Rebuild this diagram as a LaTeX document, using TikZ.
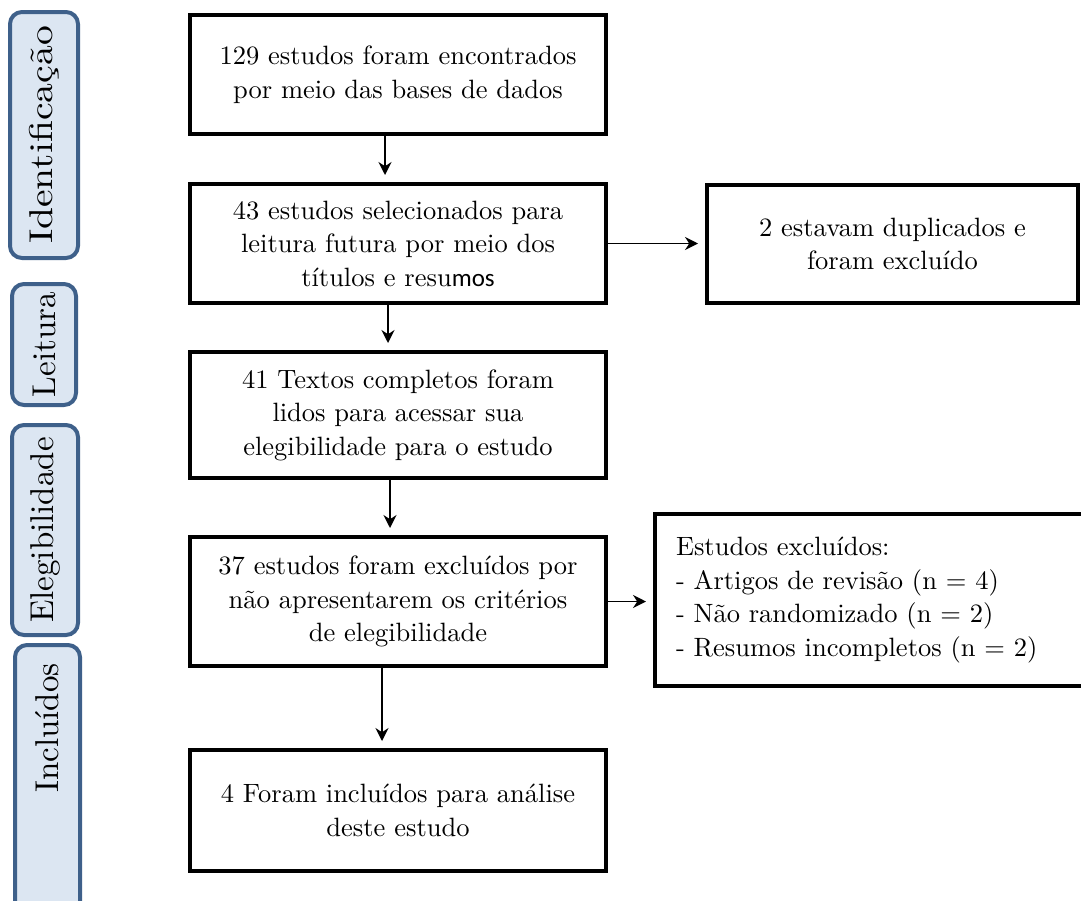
\documentclass[tikz,border=0pt]{standalone}
\usepackage{fontspec}
\setmainfont{lmroman10-regular.otf}
\newfontfamily\calibri{Carlito}
\usetikzlibrary{arrows.meta}
\definecolor{tabfill}{RGB}{220,230,242}
\definecolor{tabline}{RGB}{62,96,138}
\begin{document}
\begin{tikzpicture}[x=1pt, y=-1pt,
    stage/.style={draw=tabline, fill=tabfill, line width=4pt, rounded corners=12pt, inner sep=0pt, font=\fontsize{33}{38}\selectfont},
    box/.style={draw, line width=4pt, align=center, minimum width=416pt, inner sep=0pt, font=\fontsize{26.5}{33.5}\selectfont},
    arr/.style={-{Stealth[length=13pt, width=13pt]}, line width=1.6pt, shorten >=7pt}]
    \useasboundingbox (0,0) rectangle (1081,900);
    \clip (0,0) rectangle (1081,900);
    \node[stage, minimum width=246pt, minimum height=68pt, rotate=90] (tident) at (44,135) {\scalebox{1.2}[1]{Identificação}};
    \node[stage, minimum width=121pt, minimum height=64pt, rotate=90] (tleit) at (44,344.5) {Leitura};
    \node[stage, minimum width=210pt, minimum height=66pt, rotate=90] (teleg) at (45,530) {Elegibilidade};
    \node[stage, minimum width=270pt, minimum height=65pt, rotate=90] (tincl) at (47.5,780) {\hspace*{104pt}Incluídos};
    \node[box, minimum height=119pt] (b1) at (398,74.5) {129 estudos foram encontrados\\por meio das bases de dados};
    \node[box, minimum height=119pt] (b2) at (398,243.5) {43 estudos selecionados para\\leitura futura por meio dos\\títulos e resu{\calibri\fontsize{25}{33.5}\selectfont mos}};
    \node[box, minimum width=371pt, minimum height=118pt] (b3) at (892.5,244) {2 estavam duplicados e\\foram excluído};
    \node[box, minimum height=126pt] (b4) at (398,415) {41 Textos completos foram\\lidos para acessar sua\\elegibilidade para o estudo};
    \node[box, minimum height=129pt] (b5) at (398,601.5) {37 estudos foram excluídos por\\não apresentarem os critérios\\de elegibilidade};
    \node[box, align=left, minimum width=0pt, text width=408pt, inner xsep=21pt, minimum height=172pt] (b6) at (880,600) {Estudos excluídos:\\- Artigos de revisão (n = 4)\\- Não randomizado (n = 2)\\- Resumos incompletos (n = 2)};
    \node[box, minimum height=121pt] (b7) at (398,810.5) {4 Foram incluídos para análise\\deste estudo};
    \draw[arr] ([xshift=-13pt]b1.south) -- ([xshift=-13pt]b2.north);
    \draw[arr] ([xshift=-10pt]b2.south) -- ([xshift=-10pt]b4.north);
    \draw[arr] ([xshift=-8pt]b4.south) -- ([xshift=-8pt]b5.north);
    \draw[arr] ([xshift=-16pt]b5.south) -- ([xshift=-16pt]b7.north);
    \draw[arr] (b2.east) -- (b2.east -| b3.west);
    \draw[arr] (b5.east) -- (b5.east -| b6.west);
\end{tikzpicture}
\end{document}
